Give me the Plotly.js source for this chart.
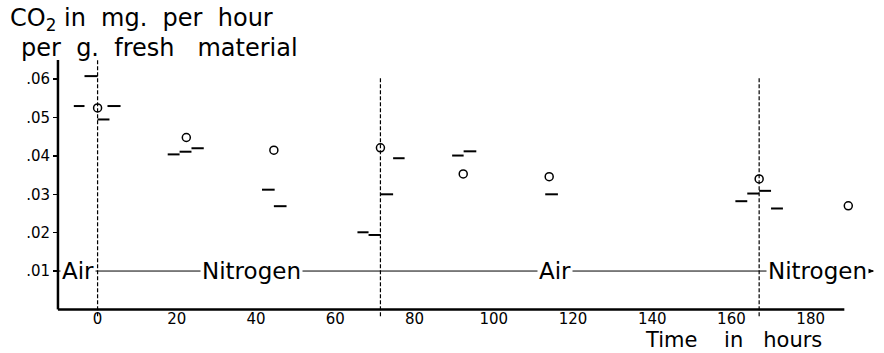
<!DOCTYPE html>
<html><head><meta charset="utf-8">
<script src="https://cdn.plot.ly/plotly-3.0.1.min.js"></script>
<style>html,body{margin:0;padding:0;background:#fff}#chart{width:884px;height:353px}</style>
</head><body><div id="chart"></div>
<script>
// Open circles: CO2 output (mg per hour per g fresh material)
const circleHours = [0, 22.4, 44.5, 71.4, 92.3, 114, 167, 189.5];
const circleCO2 = [0.0525, 0.0448, 0.0415, 0.0421, 0.0353, 0.0346, 0.0340, 0.0270];

// Horizontal dashes: interval readings (start hour, end hour, value)
const dashStart = [-6, -3.3, 2.5, 0, 17.7, 20.7, 23.7, 41.5, 44.5, 65.6, 68.4, 71.4, 74.6, 89.5, 92.4, 113, 161, 164, 167, 170];
const dashEnd   = [-3.3, 0, 5.8, 3, 20.7, 23.7, 26.8, 44.7, 47.7, 68.4, 71.4, 74.6, 77.5, 92.4, 95.6, 116.2, 164, 167, 170, 173];
const dashCO2   = [0.0530, 0.0608, 0.0530, 0.0495, 0.0404, 0.0411, 0.0420, 0.0312, 0.0269, 0.0201, 0.0194, 0.0300, 0.0394, 0.0401, 0.0412, 0.0300, 0.0282, 0.0302, 0.0309, 0.0263];

// Gas changes (dashed verticals) and atmosphere labels
const gasChangeHours = [0, 71.4, 167];
const gasChangeTop = [0.065, 0.0605, 0.0605];
const gasLabels = ['Air', 'Nitrogen', 'Air', 'Nitrogen'];
const gasLabelHours = [-5.05, 38.8, 115.4, 181.7];
const gasLineLevel = 0.01;

const xTickVals = [0, 20, 40, 60, 80, 100, 120, 140, 160, 180];
const xTickText = ['0', '20', '40', '60', '80', '100', '120', '140', '160', '180'];
const yTickVals = [0.01, 0.02, 0.03, 0.04, 0.05, 0.06];
const yTickText = ['.01', '.02', '.03', '.04', '.05', '.06'];

const FONT = 'DejaVu Sans';

const dx = [], dy = [];
for (let i = 0; i < dashStart.length; i++) {
  dx.push(dashStart[i], dashEnd[i], null);
  dy.push(dashCO2[i], dashCO2[i], null);
}

const traces = [
  {x: dx, y: dy, mode: 'lines', line: {color: '#000', width: 2}, hoverinfo: 'skip', showlegend: false},
  {x: circleHours, y: circleCO2, mode: 'markers', showlegend: false,
   marker: {symbol: 'circle-open', size: 8, color: '#000', line: {width: 1.5, color: '#000'}}}
];

const lineEnd = 195.8;
const shapes = [
  {type: 'line', xref: 'x', yref: 'y', x0: -10, x1: -10, y0: 0, y1: 0.065, line: {color: '#000', width: 2.5}},
  {type: 'line', xref: 'x', yref: 'y', x0: -10, x1: 188.5, y0: 0, y1: 0, line: {color: '#000', width: 2.5}},
  {type: 'line', xref: 'x', yref: 'y', x0: -10, x1: lineEnd, y0: gasLineLevel, y1: gasLineLevel, line: {color: '#000', width: 1}},
  {type: 'path', xref: 'x', yref: 'y', fillcolor: '#000', line: {color: '#000', width: 1},
   path: `M ${lineEnd - 1.3} ${gasLineLevel + 0.0005} L ${lineEnd} ${gasLineLevel} L ${lineEnd - 1.3} ${gasLineLevel - 0.0005} Z`}
];
gasChangeHours.forEach((h, i) => {
  shapes.push({type: 'line', xref: 'x', yref: 'y', x0: h, x1: h, y0: -0.0018, y1: gasChangeTop[i],
    line: {color: '#000', width: 1.2, dash: '4px,2px'}});
});

const annotations = gasLabels.map((t, i) => ({
  x: gasLabelHours[i], y: gasLineLevel, xref: 'x', yref: 'y', text: t, showarrow: false,
  xanchor: 'center', yanchor: 'middle', bgcolor: '#fff', borderpad: 1,
  font: {family: FONT, size: 23, color: '#000'}
}));
annotations.push({x: -0.0558, y: 1.158, xref: 'paper', yref: 'paper', xanchor: 'left', yanchor: 'middle',
  text: 'CO<sub>2</sub> in  mg.  per  hour', showarrow: false, font: {family: FONT, size: 24, color: '#000'}});
annotations.push({x: -0.0425, y: 1.046, xref: 'paper', yref: 'paper', xanchor: 'left', yanchor: 'middle',
  text: 'per  g.  fresh   material', showarrow: false, font: {family: FONT, size: 24, color: '#000'}});
annotations.push({x: 0.825, y: -0.1313, xref: 'paper', yref: 'paper', xanchor: 'center', yanchor: 'bottom',
  borderpad: 0, text: 'Time    in   hours', showarrow: false, font: {family: FONT, size: 21, color: '#000'}});

const layout = {
  width: 884, height: 353,
  margin: {l: 54, r: 6, t: 60, b: 34},
  paper_bgcolor: '#fff', plot_bgcolor: '#fff',
  showlegend: false,
  font: {family: FONT, color: '#000'},
  xaxis: {range: [-11, 197], anchor: 'free', position: 0.0025 / 0.0675,
    showgrid: false, zeroline: false, showline: false, ticks: '', ticklabelstandoff: -1,
    tickvals: xTickVals, ticktext: xTickText, tickfont: {family: FONT, size: 15, color: '#000'}},
  yaxis: {range: [-0.0025, 0.065], anchor: 'free', position: 4 / 824,
    showgrid: false, zeroline: false, showline: false, ticks: 'outside', ticklen: 5, tickwidth: 1.5, tickcolor: '#000',
    tickvals: yTickVals, ticktext: yTickText, tickfont: {family: FONT, size: 15, color: '#000'}},
  shapes: shapes,
  annotations: annotations
};

Plotly.newPlot('chart', traces, layout, {staticPlot: true, displayModeBar: false});
</script></body></html>
